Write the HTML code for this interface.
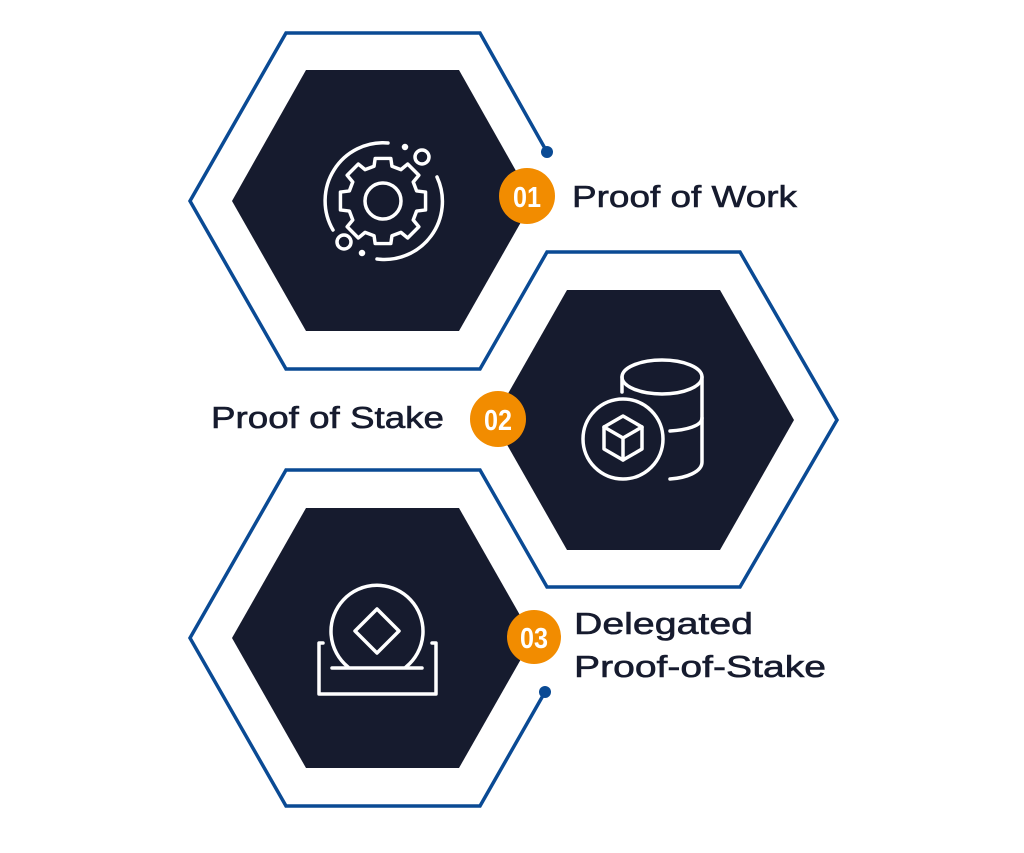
<!DOCTYPE html>
<html><head><meta charset="utf-8"><style>
html,body{margin:0;padding:0;background:#fff}
body{width:1024px;height:853px;position:relative;overflow:hidden;font-family:"Liberation Sans",sans-serif}
</style></head><body>
<svg width="1024" height="853" style="position:absolute;left:0;top:0">
<g fill="#161b2e">
<polygon points="306,70 459,70 533,201 459,331 306,331 232,201"/>
<polygon points="567,290 720,290 794,420 720,550 567,550 493,420"/>
<polygon points="306,508 459,508 533,638 459,768 306,768 232,638"/>
</g>
<g fill="none" stroke="#0a4a94" stroke-width="3.5" stroke-linejoin="miter">
<polyline points="547,152 480,33 286,33 190,201 286,369 480,369 547,252 740,252 837,420 740,587 547,587 480,470 286,470 190,638 286,806 480,806 545,692"/>
</g>
<circle cx="547" cy="152" r="6" fill="#0a4a94"/>
<circle cx="545" cy="692" r="6" fill="#0a4a94"/>
<g fill="none" stroke="#fff" stroke-width="3.5" stroke-linecap="round" stroke-linejoin="round">
<!-- gear icon -->
<path d="M388,143 A58,58 0 0 0 333,230"/>
<path d="M377,259 A58,58 0 0 0 437,177"/>
<circle cx="422" cy="157" r="7"/>
<circle cx="344" cy="242" r="7"/>
<circle cx="405" cy="147" r="1.5" fill="#fff"/>
<circle cx="362" cy="253" r="1.5" fill="#fff"/>
<circle cx="383" cy="201" r="18"/>
<g transform="translate(383,201) scale(1.12) translate(-383,-201)">
<path d="M376,163 L390,163 L391,170 L399,173 L405,168 L415,178 L410,184 L413,192 L421,193 L421,209 L413,210 L410,218 L415,224 L405,234 L399,229 L391,232 L390,239 L376,239 L375,232 L367,229 L361,234 L351,224 L356,218 L353,210 L345,209 L345,193 L353,192 L356,184 L351,178 L361,168 L367,173 L375,170 Z" stroke-width="3.1"/>
</g>
<!-- coin stack icon -->
<ellipse cx="662" cy="377" rx="40" ry="17"/>
<path d="M622,377 L622,392"/>
<path d="M702,377 L702,462 C702,472 686,478 670,479"/>
<path d="M702,418 C702,426 686,430 670,431"/>
<circle cx="623" cy="439" r="40"/>
<path d="M623,416 L642,427 L642,449 L623,460 L604,449 L604,427 Z"/>
<path d="M604,427 L623,438 L642,427 M623,438 L623,460"/>
<!-- coin tray icon -->
<path d="M348,667 A46,46 0 1 1 406,667"/>
<path d="M377,609 L399,631 L377,653 L355,631 Z"/>
<path d="M323,643 L319,643 L319,694 L436,694 L436,643 L432,643"/>
<path d="M332,668 L422,668"/>
</g>
<g fill="#f28c00">
<circle cx="527" cy="196" r="28"/>
<circle cx="498" cy="419" r="28"/>
<circle cx="534" cy="637" r="27"/>
</g>
<g fill="#fff" font-family="'Liberation Sans Narrow','Liberation Sans',sans-serif" font-weight="700" font-size="29" text-anchor="middle">
<text x="527" y="207" textLength="28" lengthAdjust="spacingAndGlyphs">01</text>
<text x="498" y="430" textLength="28" lengthAdjust="spacingAndGlyphs">02</text>
<text x="534" y="648" textLength="28" lengthAdjust="spacingAndGlyphs">03</text>
</g>
<g fill="#161b2e" font-family="'Liberation Sans',sans-serif" font-size="31" stroke="#161b2e" stroke-width="0.6">
<text x="572" y="207" textLength="225" lengthAdjust="spacingAndGlyphs">Proof of Work</text>
<text x="211" y="428" textLength="233" lengthAdjust="spacingAndGlyphs">Proof of Stake</text>
<text x="574" y="634" textLength="179" lengthAdjust="spacingAndGlyphs">Delegated</text>
<text x="574" y="677" textLength="252" lengthAdjust="spacingAndGlyphs">Proof-of-Stake</text>
</g>
</svg>
</body></html>
